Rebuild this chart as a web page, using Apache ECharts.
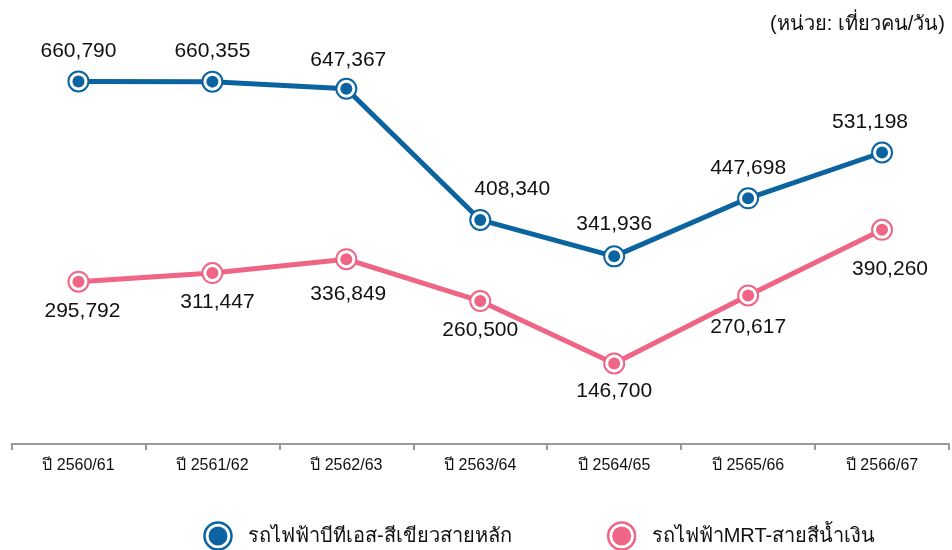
<!DOCTYPE html>
<html>
<head>
<meta charset="utf-8">
<script src="https://cdn.jsdelivr.net/npm/echarts@6/dist/echarts.min.js"></script>
<style>
  html, body { margin: 0; padding: 0; background: #fff; }
  #chart { width: 952px; height: 550px; }
</style>
</head>
<body>
<div id="chart"></div>
<script>
// Fiscal years and average daily ridership (trips per person per day)
const years = ['ปี 2560/61', 'ปี 2561/62', 'ปี 2562/63', 'ปี 2563/64', 'ปี 2564/65', 'ปี 2565/66', 'ปี 2566/67'];
const btsName = 'รถไฟฟ้าบีทีเอส-สีเขียวสายหลัก';
const mrtName = 'รถไฟฟ้าMRT-สายสีน้ำเงิน';
const btsValues = [660790, 660355, 647367, 408340, 341936, 447698, 531198];
const mrtValues = [295792, 311447, 336849, 260500, 146700, 270617, 390260];
const unitText = '(หน่วย: เที่ยวคน/วัน)';

const BLUE = '#0b64a0';
const PINK = '#ef6586';
const FONT = '"Liberation Sans", Arial, "Noto Sans", sans-serif';

function ringIcon(color) {
  const svg = '<svg xmlns="http://www.w3.org/2000/svg" width="60" height="60" viewBox="0 0 60 60">' +
    '<circle cx="30" cy="30" r="27" fill="#fff" stroke="' + color + '" stroke-width="5"/>' +
    '<circle cx="30" cy="30" r="19" fill="' + color + '"/></svg>';
  return 'image://data:image/svg+xml;charset=utf-8,' + encodeURIComponent(svg);
}

// per-point label nudges so the numbers sit clear of the lines
const btsLabelOffsets = [[0, 0], [0, 0], [2, 2], [32, 0], [0, -2], [0, 0], [-12, 0]];
const mrtLabelOffsets = [[4, 0], [5, 0], [2, 6], [0, 0], [0, -2], [0, 2], [8, 10]];

function lineSeries(name, values, color, pos, offsets) {
  return {
    name: name,
    type: 'line',
    data: values.map((v, i) => ({
      value: v,
      label: { offset: offsets[i] }
    })),
    z: 2,
    symbol: 'circle',
    symbolSize: 20,
    showAllSymbol: true,
    lineStyle: { color: color, width: 5 },
    itemStyle: { color: '#fff', borderColor: color, borderWidth: 2 },
    label: {
      show: true,
      position: pos,
      distance: pos === 'top' ? 9 : 8,
      color: '#111',
      fontSize: 21,
      fontFamily: FONT,
      formatter: p => p.value.toLocaleString('en-US')
    },
    emphasis: { disabled: true },
    animation: false
  };
}

function dotSeries(values, color) {
  return {
    type: 'scatter',
    data: values,
    z: 3,
    symbol: 'circle',
    symbolSize: 12,
    itemStyle: { color: color, opacity: 1 },
    silent: true,
    emphasis: { disabled: true },
    animation: false
  };
}

const chart = echarts.init(document.getElementById('chart'), null, { renderer: 'canvas' });
chart.setOption({
  animation: false,
  backgroundColor: '#fff',
  grid: { left: 11.5, right: 3, top: 5, height: 439 },
  title: {
    text: unitText,
    right: 2,
    top: 9,
    textStyle: { fontSize: 20, fontWeight: 'normal', color: '#111', fontFamily: FONT }
  },
  legend: {
    bottom: -6,
    left: 198,
    itemGap: 95,
    itemWidth: 30,
    itemHeight: 30,
    data: [
      { name: btsName, icon: ringIcon(BLUE) },
      { name: mrtName, icon: ringIcon(PINK) }
    ],
    textStyle: { fontSize: 20, color: '#111', fontFamily: FONT, padding: [0, 0, 0, 10] },
    selectedMode: false
  },
  xAxis: {
    type: 'category',
    data: years,
    boundaryGap: true,
    axisLine: { lineStyle: { color: '#9a9a9a', width: 2 } },
    axisTick: { show: true, length: 6, lineStyle: { color: '#9a9a9a', width: 2 } },
    axisLabel: { color: '#111', fontSize: 16, margin: 14, fontFamily: FONT }
  },
  yAxis: {
    type: 'value',
    min: 0,
    max: 800000,
    show: false,
    splitLine: { show: false }
  },
  series: [
    lineSeries(btsName, btsValues, BLUE, 'top', btsLabelOffsets),
    lineSeries(mrtName, mrtValues, PINK, 'bottom', mrtLabelOffsets),
    dotSeries(btsValues, BLUE),
    dotSeries(mrtValues, PINK)
  ]
});
</script>
</body>
</html>
